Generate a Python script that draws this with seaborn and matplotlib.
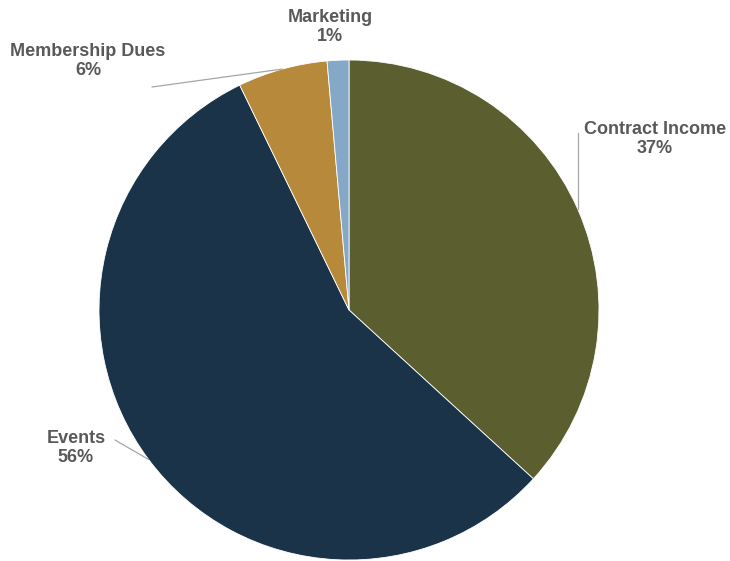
import numpy as np
import matplotlib
matplotlib.use("Agg")
import matplotlib.pyplot as plt
import seaborn as sns

sns.set_theme(style="white")
plt.rcParams['font.family'] = ['Liberation Sans', 'DejaVu Sans']

# Data
categories = ["Contract Income", "Events", "Membership Dues", "Marketing"]
shares = [36.8, 56.0, 5.8, 1.4]
colors = ["#5b5f2f", "#1b3349", "#b78a3b", "#86a8c8"]

# label anchor (pixel coords of text centre)
label_pos = {
    "Contract Income": (655, 139),
    "Events": (76, 448),
    "Membership Dues": (88, 61),
    "Marketing": (330, 27),
}
leader_start = {
    "Contract Income": (578, 133),
    "Events": (115, 440),
    "Membership Dues": (152, 87),
}

W, H = 730, 561
fig = plt.figure(figsize=(W / 100, H / 100), dpi=100)
ax = fig.add_axes([0, 0, 1, 1])

cx, cy, r = 349, H - 310, 250
wedges, _ = ax.pie(
    shares,
    colors=colors,
    startangle=90,
    counterclock=False,
    center=(cx, cy),
    radius=r,
    frame=True,
    wedgeprops=dict(edgecolor="white", linewidth=0.6),
)
ax.set_xlim(0, W)
ax.set_ylim(0, H)
ax.set_aspect("equal")
ax.axis("off")

total = sum(shares)
for w, name, val in zip(wedges, categories, shares):
    tx, ty = label_pos[name]
    ax.text(tx, H - ty, f"{name}\n{val / total * 100:.0f}%",
            ha="center", va="center", fontsize=13, fontweight="bold",
            color="#595959", linespacing=1.2)
    if name in leader_start:
        mid = np.deg2rad((w.theta1 + w.theta2) / 2)
        ex, ey = cx + r * np.cos(mid), cy + r * np.sin(mid)
        sx, sy = leader_start[name]
        if name == "Contract Income":
            ax.plot([sx, sx, ex], [H - sy, ey, ey], color="#a6a6a6", lw=0.9)
        else:
            ax.plot([sx, ex], [H - sy, ey], color="#a6a6a6", lw=0.9)

fig.savefig("out.png", dpi=100)
